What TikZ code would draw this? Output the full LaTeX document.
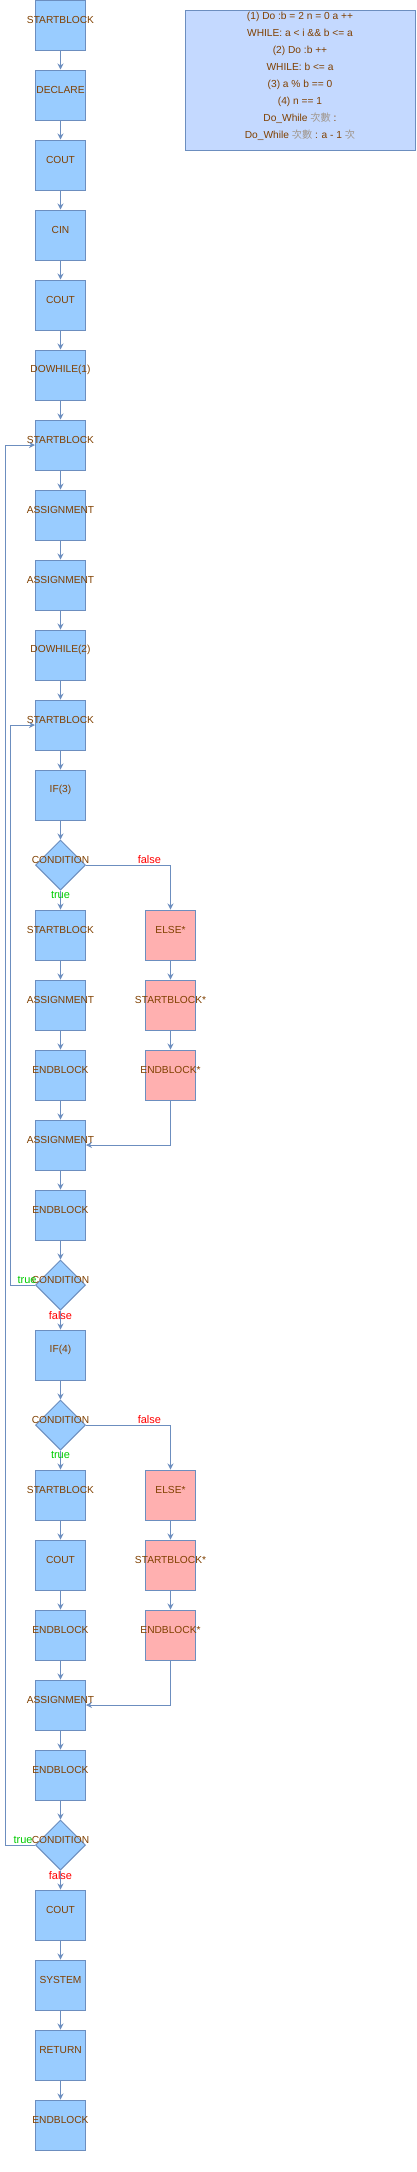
\documentclass[tikz,border=0pt]{standalone}
\usepackage{fontspec}
\setmainfont{Liberation Sans}
\newfontfamily\cjk{Noto Sans CJK TC}
\usetikzlibrary{shapes.geometric,arrows.meta}
\definecolor{blockfill}{RGB}{153,204,255}
\definecolor{elsefill}{RGB}{255,176,176}
\definecolor{notefill}{RGB}{196,217,255}
\definecolor{linecol}{RGB}{108,142,191}
\definecolor{textcol}{RGB}{128,64,0}
\definecolor{hancol}{RGB}{160,150,140}
\definecolor{truecol}{RGB}{0,204,0}

\begin{document}
\begin{tikzpicture}
[x=1pt, y=-1pt,
block/.style={draw=linecol, line width=1pt, fill=blockfill, minimum width=50pt, minimum height=50pt, inner sep=0pt, label={[blocktext]center:#1}},
elseblock/.style={block=#1, fill=elsefill},
condition/.style={diamond, aspect=1, draw=linecol, line width=1pt, fill=blockfill, minimum width=50pt, minimum height=50pt, inner sep=0pt, label={[blocktext]center:CONDITION}},
blocktext/.style={text=textcol, font=\fontsize{10.2}{12}\selectfont, anchor=center, yshift=5pt, inner sep=0pt},
notetext/.style={text=textcol, font=\fontsize{10.2}{17}\selectfont, execute at begin node={\setlength{\baselineskip}{17pt}}, align=center, inner sep=0pt},
flow/.style={draw=linecol, line width=1pt, -{Stealth[length=6pt,width=6pt]}},
truelab/.style={text=truecol, font=\fontsize{11}{13}\selectfont, inner sep=0pt},
falselab/.style={text=red, font=\fontsize{11}{13}\selectfont, inner sep=0pt}]
\useasboundingbox (0,0) rectangle (416,2172);
\node[draw=linecol, line width=1pt, fill=notefill, minimum width=230pt, minimum height=140pt, inner sep=0pt] (note) at (300,80) {};
\node[notetext, yshift=4pt] (notelines) at (note.center) {(1) Do :b = 2 n = 0 a ++\\WHILE: a < i \&\& b <= a\\(2) Do :b ++\\WHILE: b <= a\\(3) a \% b == 0\\(4) n == 1\\Do\_While {\cjk\color{hancol}次數} :\\Do\_While {\cjk\color{hancol}次數} : a - 1 {\cjk\color{hancol}次}};
\node[block=STARTBLOCK] (start) at (60.5,25) {};
\node[block=DECLARE] (declare) at (60.5,95) {};
\node[block=COUT] (cout1) at (60.5,165) {};
\node[block=CIN] (cin) at (60.5,235) {};
\node[block=COUT] (cout2) at (60.5,305) {};
\node[block={DOWHILE(1)}] (dowhile1) at (60.5,375) {};
\node[block=STARTBLOCK] (start1) at (60.5,445) {};
\node[block=ASSIGNMENT] (assign1) at (60.5,515) {};
\node[block=ASSIGNMENT] (assign2) at (60.5,585) {};
\node[block={DOWHILE(2)}] (dowhile2) at (60.5,655) {};
\node[block=STARTBLOCK] (start2) at (60.5,725) {};
\node[block={IF(3)}] (if3) at (60.5,795) {};
\node[condition] (cond3) at (60.5,865) {};
\node[block=STARTBLOCK] (start3) at (60.5,935) {};
\node[block=ASSIGNMENT] (assign3) at (60.5,1005) {};
\node[block=ENDBLOCK] (end3) at (60.5,1075) {};
\node[elseblock=ELSE*] (else3) at (170.5,935) {};
\node[elseblock=STARTBLOCK*] (startelse3) at (170.5,1005) {};
\node[elseblock=ENDBLOCK*] (endelse3) at (170.5,1075) {};
\node[block=ASSIGNMENT] (assign4) at (60.5,1145) {};
\node[block=ENDBLOCK] (end2) at (60.5,1215) {};
\node[condition] (while2) at (60.5,1285) {};
\node[block={IF(4)}] (if4) at (60.5,1355) {};
\node[condition] (cond4) at (60.5,1425) {};
\node[block=STARTBLOCK] (start4) at (60.5,1495) {};
\node[block=COUT] (cout3) at (60.5,1565) {};
\node[block=ENDBLOCK] (end4) at (60.5,1635) {};
\node[elseblock=ELSE*] (else4) at (170.5,1495) {};
\node[elseblock=STARTBLOCK*] (startelse4) at (170.5,1565) {};
\node[elseblock=ENDBLOCK*] (endelse4) at (170.5,1635) {};
\node[block=ASSIGNMENT] (assign5) at (60.5,1705) {};
\node[block=ENDBLOCK] (end1) at (60.5,1775) {};
\node[condition] (while1) at (60.5,1845) {};
\node[block=COUT] (cout4) at (60.5,1915) {};
\node[block=SYSTEM] (system) at (60.5,1985) {};
\node[block=RETURN] (return) at (60.5,2055) {};
\node[block=ENDBLOCK] (end) at (60.5,2125) {};
\coordinate (loop1) at (5.5,445);
\coordinate (loop2) at (10.5,725);
\draw[flow] (start) -- (declare);
\draw[flow] (declare) -- (cout1);
\draw[flow] (cout1) -- (cin);
\draw[flow] (cin) -- (cout2);
\draw[flow] (cout2) -- (dowhile1);
\draw[flow] (dowhile1) -- (start1);
\draw[flow] (start1) -- (assign1);
\draw[flow] (assign1) -- (assign2);
\draw[flow] (assign2) -- (dowhile2);
\draw[flow] (dowhile2) -- (start2);
\draw[flow] (start2) -- (if3);
\draw[flow] (if3) -- (cond3);
\draw[flow] (cond3) -- node[truelab, pos=0.25] {true} (start3);
\draw[flow] (cond3.east) -| node[falselab, pos=0.375, anchor=south, yshift=1pt] {false} (else3.north);
\draw[flow] (start3) -- (assign3);
\draw[flow] (assign3) -- (end3);
\draw[flow] (else3) -- (startelse3);
\draw[flow] (startelse3) -- (endelse3);
\draw[flow] (end3) -- (assign4);
\draw[flow] (endelse3.south) |- (assign4.east);
\draw[flow] (assign4) -- (end2);
\draw[flow] (end2) -- (while2);
\draw[flow] (while2) -- node[falselab, pos=0.25] {false} (if4);
\draw[flow] (while2.west) node[truelab, anchor=south east, xshift=2pt, yshift=1pt] {true} -| (loop2) -- (start2.west);
\draw[flow] (if4) -- (cond4);
\draw[flow] (cond4) -- node[truelab, pos=0.25] {true} (start4);
\draw[flow] (cond4.east) -| node[falselab, pos=0.375, anchor=south, yshift=1pt] {false} (else4.north);
\draw[flow] (start4) -- (cout3);
\draw[flow] (cout3) -- (end4);
\draw[flow] (else4) -- (startelse4);
\draw[flow] (startelse4) -- (endelse4);
\draw[flow] (end4) -- (assign5);
\draw[flow] (endelse4.south) |- (assign5.east);
\draw[flow] (assign5) -- (end1);
\draw[flow] (end1) -- (while1);
\draw[flow] (while1) -- node[falselab, pos=0.25] {false} (cout4);
\draw[flow] (while1.west) node[truelab, anchor=south east, xshift=-2pt, yshift=1pt] {true} -| (loop1) -- (start1.west);
\draw[flow] (cout4) -- (system);
\draw[flow] (system) -- (return);
\draw[flow] (return) -- (end);
\end{tikzpicture}
\end{document}
